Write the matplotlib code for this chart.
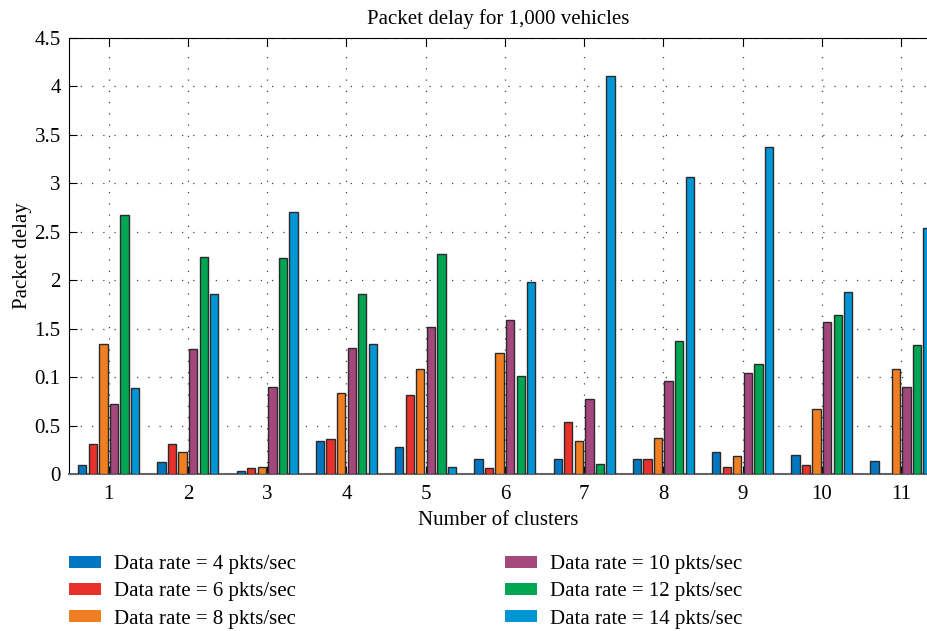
import numpy as np
import matplotlib
matplotlib.use("Agg")
import matplotlib.pyplot as plt
from matplotlib.patches import Patch

plt.rcParams['font.family'] = ['Liberation Serif', 'DejaVu Serif']

# Packet delay per cluster for each data rate
clusters = [1, 2, 3, 4, 5, 6, 7, 8, 9, 10, 11]
rate_labels = ['Data rate = 4 pkts/sec', 'Data rate = 6 pkts/sec', 'Data rate = 8 pkts/sec',
               'Data rate = 10 pkts/sec', 'Data rate = 12 pkts/sec', 'Data rate = 14 pkts/sec']
delay_4 = [0.095, 0.12, 0.035, 0.34, 0.28, 0.15, 0.15, 0.15, 0.23, 0.20, 0.13]
delay_6 = [0.31, 0.31, 0.06, 0.36, 0.82, 0.06, 0.54, 0.15, 0.07, 0.09, 0.0]
delay_8 = [1.34, 0.23, 0.07, 0.84, 1.08, 1.245, 0.345, 0.37, 0.185, 0.67, 1.08]
delay_10 = [0.72, 1.29, 0.895, 1.30, 1.515, 1.59, 0.77, 0.96, 1.04, 1.565, 0.90]
delay_12 = [2.67, 2.24, 2.23, 1.86, 2.27, 1.01, 0.10, 1.37, 1.14, 1.64, 1.33]
delay_14 = [0.885, 1.86, 2.70, 1.34, 0.07, 1.98, 4.11, 3.07, 3.37, 1.88, 2.54]
ytick_vals = [0, 0.5, 1.0, 1.5, 2, 2.5, 3, 3.5, 4, 4.5]
ytick_text = ['0', '0.5', '0.1', '1.5', '2', '2.5', '3', '3.5', '4', '4.5']

series = [delay_4, delay_6, delay_8, delay_10, delay_12, delay_14]
colors = ['#0077c0', '#e8312a', '#f07f22', '#a4477c', '#00a651', '#0096d6']

fig = plt.figure(figsize=(9.28, 6.31), dpi=100)
ax = fig.add_axes([0.0744, 0.2488, 0.9256, 0.691])

x = np.array(clusters, dtype=float)
step = 0.8 / 6
for i, (vals, c) in enumerate(zip(series, colors)):
    offs = (i - 2.5) * step
    ax.bar(x + offs, vals, width=0.105, color=c, edgecolor='#2b2b2b',
           linewidth=1.0, zorder=3)

ax.set_xlim(0.5, 11.34)
ax.set_ylim(0, 4.5)
ax.set_xticks(clusters)
ax.set_yticks(ytick_vals)
ax.set_yticklabels(ytick_text)
ax.tick_params(axis='both', direction='in', top=True, labelsize=15, length=6, pad=6)
ax.tick_params(axis='x', pad=8)
ax.grid(True, linestyle=(0, (1, 8)), color='#444444', linewidth=0.9, zorder=0)
ax.spines['right'].set_visible(False)
ax.spines['bottom'].set_color('#666666')
ax.spines['bottom'].set_linewidth(1.5)

ax.set_title('Packet delay for 1,000 vehicles', fontsize=15, pad=10)
ax.set_xlabel('Number of clusters', fontsize=15, labelpad=5)
ax.set_ylabel('Packet delay', fontsize=15, labelpad=2)

handles = [Patch(facecolor=c, edgecolor='none') for c in colors]
fig.legend(handles, rate_labels, loc='upper left', bbox_to_anchor=(0.0744, 0.120),
           ncol=2, frameon=False, fontsize=15, handlelength=1.55, handleheight=0.5,
           handletextpad=0.62, columnspacing=10.0, labelspacing=0.39, borderaxespad=0,
           borderpad=0)

fig.savefig('out.png', dpi=100)
